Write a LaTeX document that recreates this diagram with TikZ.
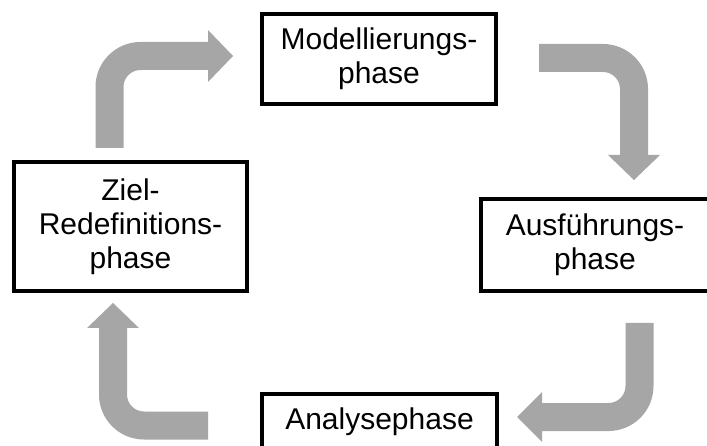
\documentclass[tikz,border=0pt]{standalone}
\usepackage{fontspec}
\setmainfont{Liberation Sans}
\definecolor{arrowgray}{HTML}{A6A6A6}
\begin{document}
\begin{tikzpicture}[x=1pt,y=-1pt,
  phasebox/.style={draw=black, line width=4.3pt, fill=white, align=center,
    font=\fontsize{30}{34}\selectfont, inner sep=0pt, outer sep=0pt},
  shaft/.style={draw=arrowgray, line width=28pt, rounded corners=31pt},
  headfill/.style={fill=arrowgray}]
\useasboundingbox (0,0) rectangle (707,446);
\clip (0,0) rectangle (707,446);
\fill[white] (0,0) rectangle (707,446);

% phase boxes
\node[phasebox, minimum width=234pt, minimum height=90pt] (mod) at (379,59) {Modellierungs-\\phase};
\node[phasebox, minimum width=233pt, minimum height=129pt] (ziel) at (130.5,226.5) {Ziel-\\Redefinitions-\\phase};
\node[phasebox, minimum width=228pt, minimum height=92pt] (ausf) at (595,245) {Ausführungs-\\phase};
\node[phasebox, minimum width=235pt, minimum height=56pt] (ana) at (379.5,422) {Analysephase};

% arrow: Ziel -> Modellierung
\coordinate (a1s) at (109.5,148);
\coordinate (a1b) at (209,56);
\coordinate (a1t) at (233,56);
\draw[shaft] (a1s) |- (a1b);
\fill[headfill] (a1t) -- ([yshift=26pt]208,56) -- ([yshift=-26pt]208,56) -- cycle;

% arrow: Modellierung -> Ausfuehrung
\coordinate (a2s) at (539,58);
\coordinate (a2b) at (634,156);
\coordinate (a2t) at (634,180);
\draw[shaft] (a2s) -| (a2b);
\fill[headfill] (a2t) -- ([xshift=26pt]634,155) -- ([xshift=-26pt]634,155) -- cycle;

% arrow: Ausfuehrung -> Analyse
\coordinate (a3s) at (639.5,323);
\coordinate (a3b) at (541,417);
\coordinate (a3t) at (517,417);
\draw[shaft] (a3s) |- (a3b);
\fill[headfill] (a3t) -- ([yshift=25pt]542,417) -- ([yshift=-25pt]542,417) -- cycle;

% arrow: Analyse -> Ziel
\coordinate (a4s) at (208,425.5);
\coordinate (a4b) at (113,327);
\coordinate (a4t) at (113,303);
\draw[shaft] (a4s) -| (a4b);
\fill[headfill] (a4t) -- ([xshift=26pt]113,328) -- ([xshift=-26pt]113,328) -- cycle;
\end{tikzpicture}
\end{document}
